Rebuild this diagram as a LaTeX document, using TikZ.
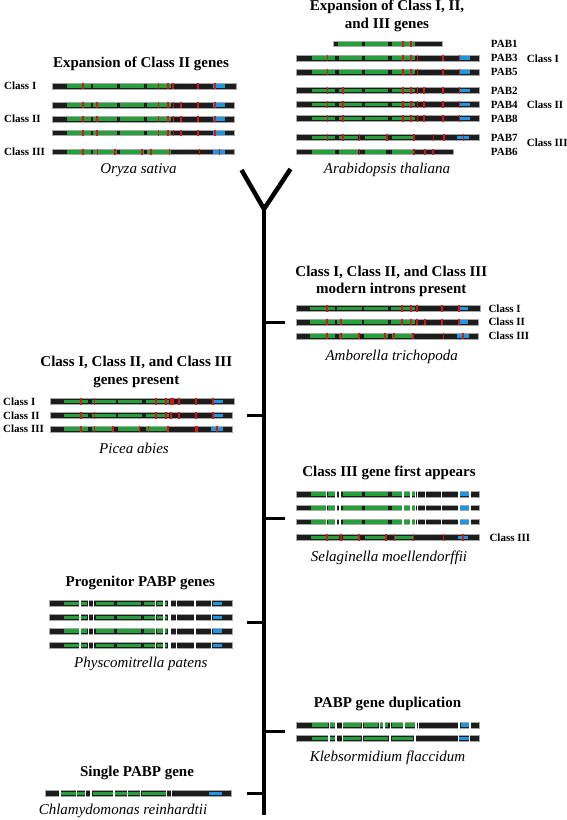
\documentclass[tikz,border=0pt]{standalone}
\usepackage{fontspec}
\setmainfont{Liberation Serif}
\usepackage{tikz}
\usetikzlibrary{positioning}

\definecolor{verde}{RGB}{38,160,58}
\definecolor{azul}{RGB}{30,150,228}
\definecolor{rojo}{RGB}{210,25,25}
\definecolor{negro}{RGB}{28,28,28}

\tikzset{
	barra/.style={fill=negro, draw=gray!70, line width=0.6pt},
	exon/.style={fill=verde},
	pabc/.style={fill=azul},
	intron/.style={draw=rojo, line width=1.6pt},
	corte/.style={draw=white, line width=1.2pt},
	titulo/.style={font=\bfseries\fontsize{15}{17.5}\selectfont, align=center, inner sep=0pt},
	especie/.style={font=\itshape\fontsize{15}{17}\selectfont, inner sep=0pt},
	etiqueta/.style={font=\bfseries\fontsize{11}{12}\selectfont, anchor=west, inner sep=0pt},
	rama/.style={line width=3pt},
	tronco/.style={line width=4.5pt}
}

% barra de un gen: {y}{x inicial}{x final}
\newcommand{\barragen}[3]{\draw[barra] (#2,#1-2.9) rectangle (#3,#1+2.9);}
% exones en verde: {y}{lista a/b}
\newcommand{\exones}[2]{\foreach \a/\b in {#2} {\fill[exon] (\a,#1-1.8) rectangle (\b,#1+1.8);}}
% dominio PABC en azul: {y}{x inicial}{x final}
\newcommand{\dominio}[3]{\fill[pabc] (#2,#1-1.8) rectangle (#3,#1+1.8);}
% intrones en rojo: {y}{lista}
\newcommand{\intrones}[2]{\foreach \a in {#2} {\draw[intron] (\a,#1-3.2) -- (\a,#1+3.2);}}
% cortes en blanco: {y}{lista}
\newcommand{\cortes}[2]{\foreach \a in {#2} {\draw[corte] (\a,#1-3.5) -- (\a,#1+3.5);}}

\begin{document}
\begin{tikzpicture}[x=1pt, y=-1pt]
	\useasboundingbox (0,0) rectangle (567,820);
	
	% Tronco del arbol
	\coordinate (union) at (264,209);
	\coordinate (brazoIzq) at (241.5,170);
	\coordinate (brazoDer) at (290.5,169);
	\coordinate (base) at (264,815);
	\draw[tronco] (union) -- (base);
	\draw[tronco] (brazoIzq) -- (union) -- (brazoDer);
	
	% Ramas
	\coordinate (rAt) at (264,322);   \coordinate (rAt2) at (285,322);
	\coordinate (rPa) at (264,415);   \coordinate (rPa2) at (247,415);
	\coordinate (rSm) at (264,518);   \coordinate (rSm2) at (285,518);
	\coordinate (rPp) at (264,622);   \coordinate (rPp2) at (247,622);
	\coordinate (rKf) at (264,731);   \coordinate (rKf2) at (285,731);
	\coordinate (rCr) at (264,793);   \coordinate (rCr2) at (247,793);
	\draw[rama] (rAt) -- (rAt2);
	\draw[rama] (rPa) -- (rPa2);
	\draw[rama] (rSm) -- (rSm2);
	\draw[rama] (rPp) -- (rPp2);
	\draw[rama] (rKf) -- (rKf2);
	\draw[rama] (rCr) -- (rCr2);
	
	% Oryza sativa
	\node[titulo] (tOs) at (141,64) {Expansion of Class II genes};
	\barragen{86}{52.3}{236}
	\exones{86}{66.7/90.7, 93.3/117.3, 120/144, 147.3/171}
	\dominio{86}{213.3}{225}
	\intrones{86}{82.7, 158.3, 167.7, 172.7, 197.7, 214.7}
	\foreach \y in {105,119,132.7} {
		\barragen{\y}{52.3}{234.3}
		\exones{\y}{66.7/90.7, 93.3/117.3, 120/144, 147.3/171}
		\dominio{\y}{213.3}{225}
		\intrones{\y}{82.7, 96.7, 158.3, 167.7, 173.3, 181, 197.7, 214.7}
	}
	\barragen{151.7}{52.3}{234.3}
	\exones{151.7}{66.7/90.7, 93.3/117.3, 120/144, 147.3/171}
	\dominio{151.7}{212.7}{225}
	\intrones{151.7}{82.7, 97.3, 115, 141.7, 151, 169.3, 199.3, 219.3}
	\node[etiqueta] (cOs1) at (4,86) {Class I};
	\node[etiqueta] (cOs2) at (4,119) {Class II};
	\node[etiqueta] (cOs3) at (4,151.7) {Class III};
	\node[especie] (eOs) at (138.5,170) {Oryza sativa};
	
	% Arabidopsis thaliana
	\node[titulo] (tAth) at (387,16) {Expansion of Class I, II,\\and III genes};
	\barragen{43.8}{333.3}{442.7}
	\exones{43.8}{338.3/361.7, 365/388.3, 391.7/415}
	\intrones{43.8}{402.7, 410.7}
	\foreach \y in {58,72} {
		\barragen{\y}{296.7}{479}
		\exones{\y}{311.7/335, 339/361.7, 365/388.3, 391.7/415}
		\dominio{\y}{460}{470}
		\intrones{\y}{327.3, 402.7, 410.7, 417.3, 442.7, 459.3}
	}
	\foreach \y in {90.5,104.6,118.6} {
		\barragen{\y}{296.7}{479}
		\exones{\y}{311.7/335, 339/361.7, 365/388.3, 391.7/415}
		\dominio{\y}{460}{470}
		\intrones{\y}{327.3, 342.7, 402.7, 410.7, 417.3, 424, 442.7, 459.3}
	}
	\barragen{137.5}{296.7}{479}
	\exones{137.5}{311.7/335, 339/358, 365/386, 391.7/413}
	\dominio{137.5}{457.3}{469.3}
	\intrones{137.5}{327.3, 342.7, 359.3, 386.7, 414, 433.3, 444, 463.3}
	\barragen{151.7}{296.7}{453.3}
	\exones{151.7}{311.7/335, 339/358, 365/386, 391.7/413}
	\intrones{151.7}{359.3, 414, 425, 432.7}
	\node[etiqueta] (pab1) at (490.7,43.8) {PAB1};
	\node[etiqueta] (pab3) at (490.7,58) {PAB3};
	\node[etiqueta] (pab5) at (490.7,72) {PAB5};
	\node[etiqueta] (pab2) at (490.7,90.5) {PAB2};
	\node[etiqueta] (pab4) at (490.7,104.6) {PAB4};
	\node[etiqueta] (pab8) at (490.7,118.6) {PAB8};
	\node[etiqueta] (pab7) at (490.7,137.5) {PAB7};
	\node[etiqueta] (pab6) at (490.7,151.7) {PAB6};
	\node[etiqueta] (cAth1) at (526.7,58.3) {Class I};
	\node[etiqueta] (cAth2) at (526.7,104.3) {Class II};
	\node[etiqueta] (cAth3) at (526.7,142.7) {Class III};
	\node[especie] (eAth) at (387,170) {Arabidopsis thaliana};
	
	% Amborella trichopoda
	\node[titulo] (tAt) at (391.3,281.5) {Class I, Class II, and Class III\\modern introns present};
	\barragen{308.3}{296}{480}
	\exones{308.3}{310/335, 337.3/361.7, 364/388.3, 391/415}
	\dominio{308.3}{459.3}{468.3}
	\intrones{308.3}{326.7, 401.7, 411, 416.7, 441.7, 459}
	\barragen{322}{296}{478.3}
	\exones{322}{310/335, 337.3/361.7, 364/388.3, 391/415}
	\dominio{322}{460}{468.3}
	\intrones{322}{326.7, 341, 401.7, 411, 416.7, 425, 441.7, 459}
	\barragen{336}{296}{478.3}
	\exones{336}{310/335, 339/360, 364/388.3, 392/413}
	\dominio{336}{456.7}{469.3}
	\intrones{336}{326.7, 341, 359, 385, 394, 412.7, 443.3, 462.7}
	\node[etiqueta] (cAt1) at (488.3,308.3) {Class I};
	\node[etiqueta] (cAt2) at (488.3,322) {Class II};
	\node[etiqueta] (cAt3) at (488.3,336) {Class III};
	\node[especie] (eAt) at (391.7,356.7) {Amborella trichopoda};
	
	% Picea abies
	\node[titulo] (tPa) at (136.3,372) {Class I, Class II, and Class III\\genes present};
	\barragen{401.5}{50}{234.3}
	\exones{401.5}{64.3/88.3, 91.7/115.7, 118.3/142.3, 145.7/169.3}
	\dominio{401.5}{213.3}{222.7}
	\intrones{401.5}{80.7, 94.3, 155.7, 165.7, 171, 172.7, 179, 195.7, 212.7}
	\barragen{415.3}{50}{232.3}
	\exones{415.3}{64.3/88.3, 91.7/115.7, 118.3/142.3, 145.7/169.3}
	\dominio{415.3}{213.3}{222.7}
	\intrones{415.3}{80.7, 94.3, 155.7, 165.7, 171, 179, 195.7, 212.7}
	\barragen{429}{50}{232.3}
	\exones{429}{64.3/88.3, 91.7/113.3, 118.3/140, 145.7/166.7}
	\dominio{429}{211}{222.7}
	\intrones{429}{80.7, 94.3, 112.7, 139.3, 148.3, 167.7, 196.2, 197.2, 216.7}
	\node[etiqueta] (cPa1) at (3,401.5) {Class I};
	\node[etiqueta] (cPa2) at (3,415.3) {Class II};
	\node[etiqueta] (cPa3) at (3,429) {Class III};
	\node[especie] (ePa) at (134,448.3) {Picea abies};
	
	% Selaginella moellendorffii
	\node[titulo] (tSm) at (389,473.3) {Class III gene first appears};
	\foreach \y in {494,507.7,521.7} {
		\barragen{\y}{296}{479.3}
		\exones{\y}{311/326, 328.3/335, 342.7/361.7, 365/388.3, 391.7/402.7, 404/410.7, 411.7/415}
		\dominio{\y}{460}{469.3}
		\cortes{\y}{326.7, 336, 340, 403, 411, 415.7, 417.7, 425.7, 441.7, 459, 470}
	}
	\barragen{537.3}{296}{479.3}
	\exones{537.3}{311/326, 328.3/339, 342.7/358, 365/386, 395/412.7}
	\dominio{537.3}{457.7}{468.3}
	\intrones{537.3}{326.7, 341, 359, 385.7, 394.3, 413.3, 443.3, 462.7}
	\node[etiqueta] (cSm3) at (489.3,537.3) {Class III};
	\node[especie] (eSm) at (389,557.7) {Selaginella moellendorffii};
	
	% Physcomitrella patens
	\node[titulo] (tPp) at (140.3,583.3) {Progenitor PABP genes};
	\foreach \y in {603.3,617.3,631,645.3} {
		\barragen{\y}{49.3}{232.3}
		\exones{\y}{64/79.3, 80.7/87.3, 95.7/114, 117.3/140.7, 144/155, 156.7/163.3, 164.3/167.3}
		\dominio{\y}{213.3}{221.7}
		\cortes{\y}{80, 88.3, 93.3, 155.7, 164, 168.3, 170, 176.7, 195, 211.7}
	}
	\node[especie] (ePp) at (140.8,664) {Physcomitrella patens};
	
	% Klebsormidium flaccidum
	\node[titulo] (tKf) at (387.5,704) {PABP gene duplication};
	\barragen{725}{296.7}{479.3}
	\exones{725}{311.7/328.3, 330/335, 343.3/361, 364.3/378.3, 380/383, 385/388.3, 391.7/402.7, 405/415}
	\dominio{725}{461}{469.3}
	\cortes{725}{329.3, 336, 342.3, 362.7, 379.3, 384, 390.7, 404, 416, 418.3, 459, 470}
	\barragen{738.3}{296.7}{479.3}
	\exones{738.3}{311.7/335, 343.3/361, 364.3/388.3, 392.3/413.3}
	\dominio{738.3}{458.3}{469.3}
	\cortes{738.3}{329, 336, 342.3, 362.7, 390, 415, 458.3, 469.3}
	\node[especie] (eKf) at (387.5,758.3) {Klebsormidium flaccidum};
	
	% Chlamydomonas reinhardtii
	\node[titulo] (tCr) at (137,773.3) {Single PABP gene};
	\barragen{793.3}{45.7}{231.7}
	\exones{793.3}{60/76, 77.3/85, 93.3/112.7, 115/126.7, 128.3/140, 141.7/166}
	\dominio{793.3}{209.3}{221.7}
	\cortes{793.3}{60, 76.7, 85.7, 91, 114, 127.3, 140.7, 166.7, 171.7}
	\node[especie] (eCr) at (123,811) {Chlamydomonas reinhardtii};
	
\end{tikzpicture}
\end{document}
